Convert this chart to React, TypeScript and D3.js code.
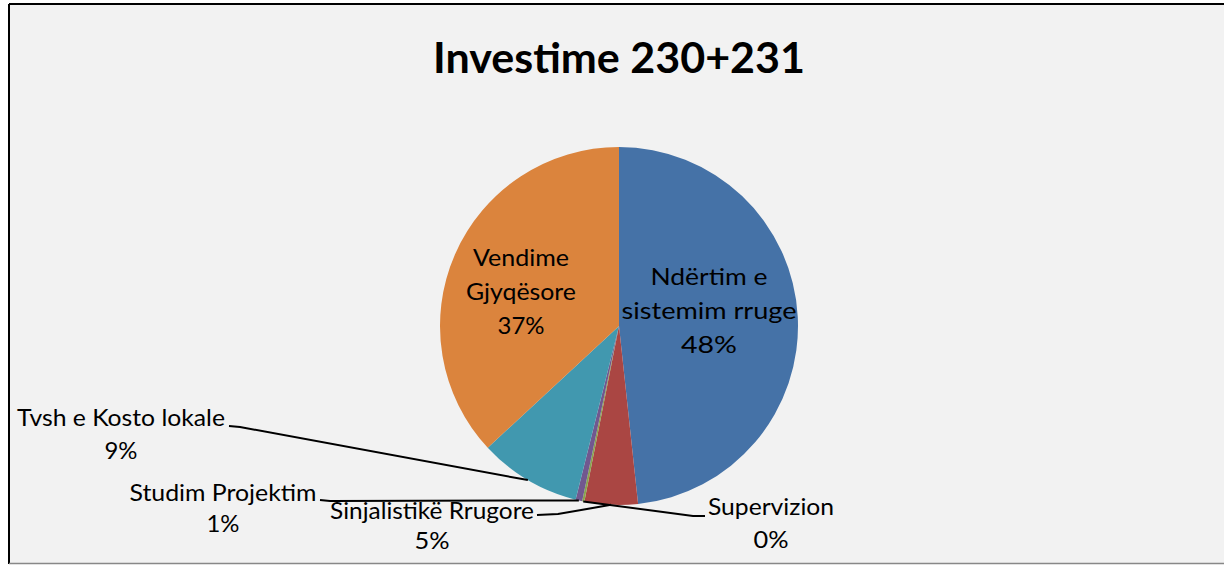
import React from "react";
import * as d3 from "d3";

const categories = [
  "Ndërtim e sistemim rruge",
  "Sinjalistikë Rrugore",
  "Supervizion",
  "Studim Projektim",
  "Tvsh e Kosto lokale",
  "Vendime Gjyqësore",
];
const values = [48.3, 4.8, 0.2, 0.6, 9.2, 36.9];
const percentLabels = ["48%", "5%", "0%", "1%", "9%", "37%"];
const colors = ["#4572A7", "#AA4643", "#89A54E", "#71588F", "#4198AF", "#DB843D"];
const title = "Investime 230+231";

const insideLabels: Record<number, { lines: [string, number][]; x: number; y: number }> = {
  0: { lines: [["Ndërtim e", 117], ["sistemim rruge", 175], ["48%", 56]], x: 709, y: 285 },
  5: { lines: [["Vendime", 96], ["Gjyqësore", 110], ["37%", 47]], x: 521, y: 266 },
};
const outsideLabels: Record<number, { name: string; cx: number; y: number; y2: number; w: number; pw: number; elbow: [number, number][] }> = {
  4: { name: "Tvsh e Kosto lokale", cx: 121, y: 426, y2: 459, w: 208, pw: 33, elbow: [[229, 426], [240, 427]] },
  3: { name: "Studim Projektim", cx: 223, y: 501, y2: 532, w: 187, pw: 33, elbow: [[320, 500], [330, 501]] },
  1: { name: "Sinjalistikë Rrugore", cx: 432, y: 519, y2: 549, w: 204, pw: 35, elbow: [[537, 515], [558, 514]] },
  2: { name: "Supervizion", cx: 771, y: 515, y2: 548, w: 126, pw: 35, elbow: [[705, 516], [693, 516]] },
};

export default function App() {
  const cx = 619, cy = 326, r = 179;
  const pie = d3.pie<number>().sort(null).value((d) => d)(values);
  const arc = d3.arc<d3.PieArcDatum<number>>().innerRadius(0).outerRadius(r);
  const font = "Lato, 'Open Sans', sans-serif";
  const fs = 23;

  return (
    <svg width={1224} height={565} style={{ position: "absolute", left: 0, top: 0 }}>
      <rect x={0} y={0} width={1224} height={565} fill="#ffffff" />
      <rect x={9} y={5} width={1230} height={558} fill="#F2F2F2" />
      <line x1={9} y1={4} x2={1224} y2={4} stroke="#000" strokeWidth={2} />
      <line x1={9} y1={4} x2={9} y2={564} stroke="#000" strokeWidth={2} />
      <line x1={9} y1={563.5} x2={1224} y2={563.5} stroke="#888" strokeWidth={1.5} />
      <text x={619} y={73} textAnchor="middle" fontFamily={font} fontWeight="bold" fontSize={42}
        textLength={372} lengthAdjust="spacingAndGlyphs" fill="#000">{title}</text>
      <g transform={`translate(${cx},${cy})`}>
        {pie.map((p, i) => (
          <path key={i} d={arc(p) || ""} fill={colors[i]}>
            <title>{categories[i]}</title>
          </path>
        ))}
      </g>
      {pie.map((p, i) => {
        const il = insideLabels[i];
        if (il) {
          return (
            <g key={"il" + i}>
              {il.lines.map(([t, w], k) => (
                <text key={k} x={il.x} y={il.y + k * 34} textAnchor="middle" fontFamily={font} fontSize={fs}
                  textLength={w} lengthAdjust="spacingAndGlyphs" fill="#000">{t}</text>
              ))}
            </g>
          );
        }
        const ol = outsideLabels[i];
        if (!ol) return null;
        const mid = (p.startAngle + p.endAngle) / 2;
        const ex = cx + r * Math.sin(mid);
        const ey = cy - r * Math.cos(mid);
        const pts: [number, number][] = [...ol.elbow, [ex, ey]];
        return (
          <g key={"ol" + i}>
            <path d={d3.line()(pts) || ""} fill="none" stroke="#000" strokeWidth={2} />
            <text x={ol.cx} y={ol.y} textAnchor="middle" fontFamily={font} fontSize={fs}
              textLength={ol.w} lengthAdjust="spacingAndGlyphs" fill="#000">{ol.name}</text>
            <text x={ol.cx} y={ol.y2} textAnchor="middle" fontFamily={font} fontSize={fs}
              textLength={ol.pw} lengthAdjust="spacingAndGlyphs" fill="#000">{percentLabels[i]}</text>
          </g>
        );
      })}
    </svg>
  );
}
